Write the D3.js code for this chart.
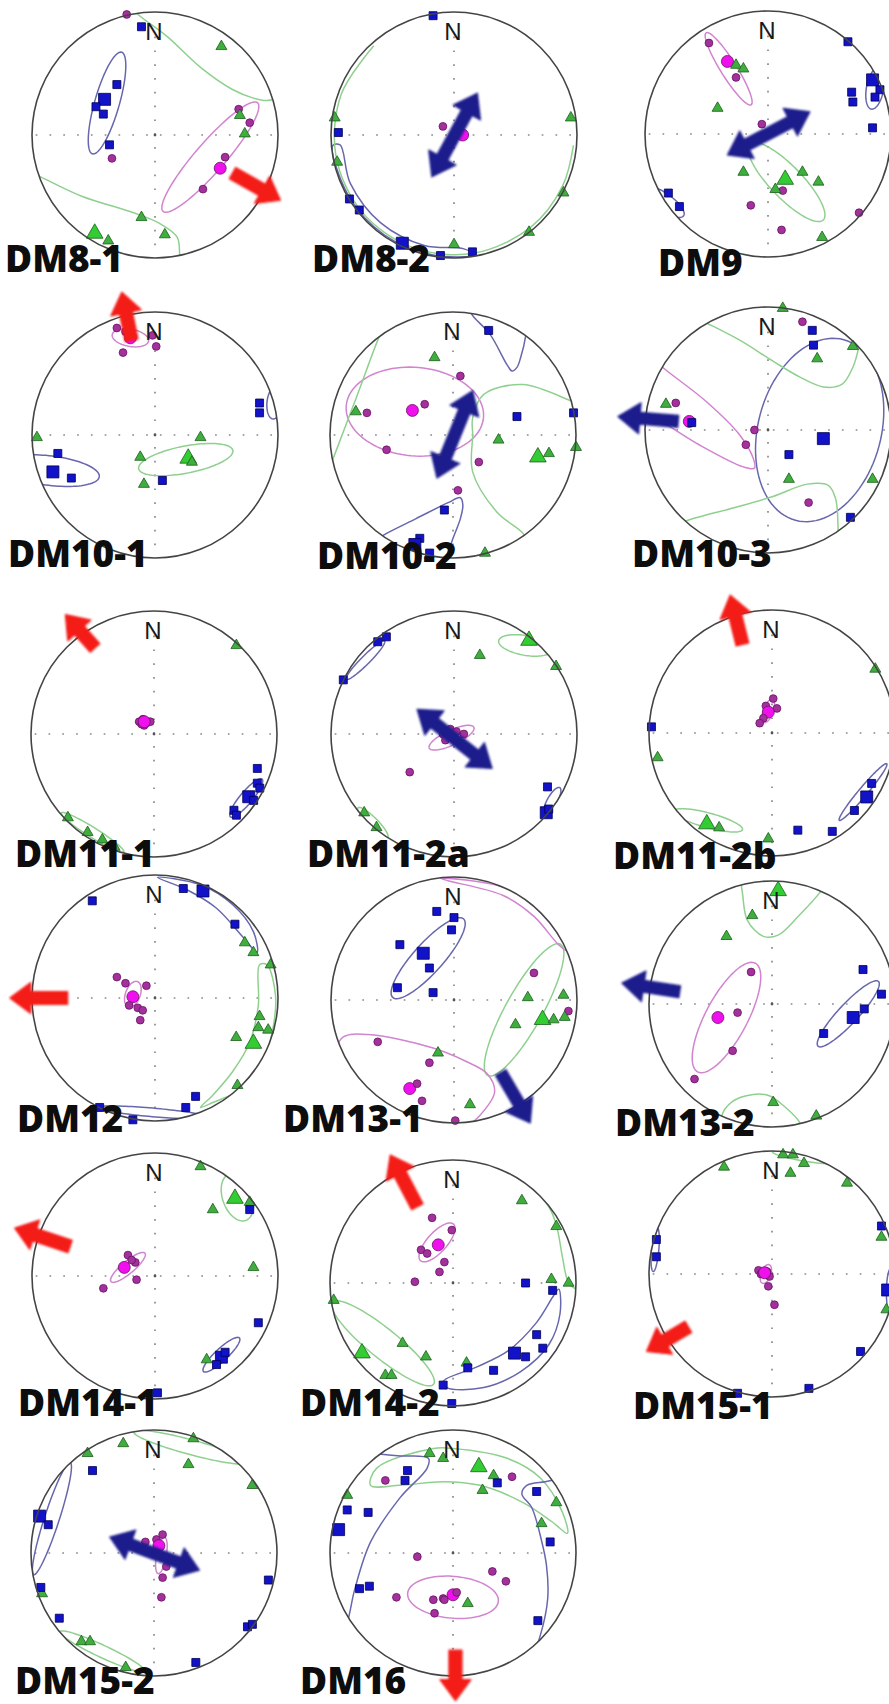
<!DOCTYPE html>
<html><head><meta charset="utf-8">
<script src="https://cdn.jsdelivr.net/npm/d3@7"></script>
<style>body{margin:0;background:#fff}</style>
</head><body><svg id="c" width="889" height="1704"></svg>
<script>
// ---------------- DATA (unit equal-area coordinates: [east, north, isMean]) ----------------
const sites = ["DM8-1","DM8-2","DM9","DM10-1","DM10-2","DM10-3","DM11-1","DM11-2a","DM11-2b",
  "DM12","DM13-1","DM13-2","DM14-1","DM14-2","DM15-1","DM15-2","DM16"];

const kmaxPoints = [
 [[-0.11,0.88,0],[-0.31,0.41,0],[-0.41,0.29,1],[-0.48,0.23,0],[-0.42,0.17,0],[-0.37,-0.08,0]],
 [[-0.17,0.97,0],[-0.94,0.02,0],[-0.85,-0.52,0],[-0.77,-0.61,0],[-0.42,-0.88,1],[-0.11,-0.98,0],[0.15,-0.95,0]],
 [[0.65,0.75,0],[0.85,0.44,1],[0.91,0.36,0],[0.68,0.34,0],[0.69,0.26,0],[0.87,0.30,0],[0.85,0.05,0],[-0.81,-0.48,0],[-0.72,-0.59,0]],
 [[0.85,0.26,0],[0.85,0.18,0],[-0.79,-0.15,0],[-0.83,-0.30,1],[-0.68,-0.35,0],[0.06,-0.37,0]],
 [[0.29,0.85,0],[0.52,0.15,0],[0.98,0.18,0],[-0.07,-0.61,0],[-0.27,-0.84,0],[-0.31,-0.89,1],[-0.19,-0.96,0]],
 [[0.36,0.81,0],[0.37,0.69,0],[0.45,-0.07,1],[0.17,-0.2,0],[0.67,-0.71,0],[-0.62,0.06,0]],
 [[0.84,-0.28,0],[0.84,-0.4,0],[0.86,-0.44,0],[0.77,-0.51,1],[0.81,-0.54,0],[0.65,-0.62,0],[0.67,-0.66,0]],
 [[-0.62,0.75,0],[-0.55,0.79,0],[-0.9,0.44,0],[0.76,-0.43,0],[0.75,-0.64,1],[0.77,-0.61,0]],
 [[-0.98,0.05,0],[0.81,-0.41,0],[0.77,-0.52,1],[0.67,-0.63,0],[0.21,-0.79,0],[0.49,-0.8,0]],
 [[-0.51,0.79,0],[0.23,0.89,0],[0.39,0.87,1],[0.65,0.6,0],[0.33,-0.8,0],[0.25,-0.89,0],[-0.45,-0.89,0],[-0.18,-0.99,0]],
 [[-0.14,0.72,0],[-0.44,0.45,0],[-0.25,0.38,1],[-0.2,0.26,0],[-0.46,0.1,0],[-0.17,0.06,0],[0,0.67,0],[-0.02,0.57,0]],
 [[0.74,0.28,0],[0.89,0.08,0],[0.75,-0.04,0],[0.66,-0.11,1],[0.42,-0.24,0]],
 [[0.77,0.54,0],[0.84,-0.38,0],[0.54,-0.66,1],[0.5,-0.72,0],[0.57,-0.62,0],[0.02,-0.95,0]],
 [[0.59,0,0],[0.81,-0.06,0],[0.68,-0.42,0],[0.73,-0.53,0],[0.5,-0.57,1],[0.59,-0.6,0],[0.33,-0.71,0],[0.12,-0.69,0],[-0.08,-0.83,0],[-0.01,-0.98,0]],
 [[-0.94,0.28,0],[-0.94,0.14,0],[0.89,0.39,0],[0.94,-0.13,1],[0.72,-0.63,0],[0.3,-0.93,0],[-0.28,-0.97,0]],
 [[-0.5,0.67,0],[-0.93,0.3,1],[-0.86,0.23,0],[-0.92,-0.28,0],[-0.77,-0.53,0],[0.93,-0.22,0],[0.76,-0.6,0],[0.8,-0.58,0],[0.34,-0.89,0]],
 [[-0.37,0.67,0],[-0.39,0.59,0],[-0.86,0.35,0],[-0.69,0.33,0],[-0.93,0.19,1],[-0.76,-0.29,0],[-0.68,-0.27,0],[0.36,0.57,0],[0.68,0.5,0],[0.79,0.09,0],[0.69,-0.55,0]]
];

const kintPoints = [
 [[0.54,0.72,0],[0.69,0.16,0],[0.73,0.01,0],[-0.11,-0.67,0],[0.08,-0.81,0],[-0.49,-0.80,1],[-0.38,-0.86,0]],
 [[-0.97,0.14,0],[-0.95,-0.22,0],[0.95,0.14,0],[0,-0.89,0],[0.89,-0.47,0],[0.61,-0.79,0]],
 [[-0.26,0.56,0],[-0.2,0.53,0],[-0.41,0.21,0],[-0.2,-0.31,0],[0.14,-0.37,1],[0.06,-0.45,0],[0.28,-0.31,0],[0.41,-0.39,0],[0.44,-0.84,0]],
 [[-0.96,-0.02,0],[0.37,-0.02,0],[-0.12,-0.18,0],[0.27,-0.19,1],[0.3,-0.22,0],[-0.09,-0.40,0]],
 [[-0.15,0.63,0],[-0.79,0.19,0],[0.37,-0.04,0],[0.69,-0.18,1],[0.78,-0.15,0],[0.26,-0.96,0],[1.0,-0.1,0]],
 [[0.12,0.99,0],[0.40,0.58,0],[0.69,0.68,0],[-0.83,0.21,0],[0.17,-0.4,0],[0.85,-0.4,0]],
 [[0.67,0.72,0],[-0.7,-0.68,0],[-0.54,-0.8,0],[-0.42,-0.86,0],[-0.32,-0.92,0]],
 [[0.61,0.76,1],[0.21,0.64,0],[0.83,0.55,0],[-0.73,-0.64,0],[-0.63,-0.76,0]],
 [[0.84,0.52,0],[-0.93,-0.2,0],[-0.53,-0.74,1],[-0.43,-0.77,0],[-0.03,-0.86,0]],
 [[0.73,0.45,0],[0.8,0.37,0],[0.94,0.27,0],[0.85,-0.15,0],[0.84,-0.24,0],[0.92,-0.26,0],[0.66,-0.32,0],[0.8,-0.37,1],[0.67,-0.71,0]],
 [[-0.13,-0.43,0],[0.6,0.02,0],[0.89,0.04,0],[0.5,-0.2,0],[0.72,-0.16,1],[0.81,-0.16,0],[0.9,-0.14,0],[0.13,-0.85,0]],
 [[0.05,0.92,1],[-0.16,0.72,0],[-0.37,0.55,0],[0.01,-0.8,0],[0.36,-0.91,0]],
 [[0.37,0.89,0],[0.65,0.63,1],[0.47,0.54,0],[0.77,0.6,0],[0.8,0.07,0],[0.42,-0.68,0]],
 [[0.56,0.67,0],[0.84,0.46,0],[0.8,0.03,0],[0.94,0,0],[0.11,-0.65,0],[-0.97,-0.14,0],[-0.74,-0.57,1],[-0.41,-0.49,0],[-0.22,-0.6,0],[-0.55,-0.75,0],[-0.5,-0.75,0]],
 [[0.09,0.97,0],[0.17,0.97,0],[0.26,0.9,0],[0.15,0.82,0],[-0.39,0.87,0],[0.61,0.74,0],[0.89,0.3,0],[0.93,-0.29,0]],
 [[-0.54,0.81,0],[-0.25,0.89,0],[0.32,0.93,0],[0.28,0.72,0],[0.8,0.55,0],[-0.91,-0.33,0],[-0.59,-0.72,0],[-0.52,-0.72,0],[-0.23,-0.93,0]],
 [[-0.86,0.47,0],[-0.19,0.81,0],[-0.08,0.77,0],[0.21,0.7,1],[0.33,0.63,0],[0.24,0.51,0],[0.84,0.41,0],[0.72,0.24,0],[0.12,-0.41,0]]
];

const kminPoints = [
 [[-0.35,-0.19,0],[0.68,0.21,0],[0.77,0.10,0],[0.57,-0.18,0],[0.53,-0.27,1],[0.39,-0.44,0],[-0.23,0.98,0]],
 [[-0.09,0.07,0],[0.07,0.0,1]],
 [[-0.48,0.74,0],[-0.33,0.59,1],[-0.26,0.46,0],[-0.05,0.08,0],[0.12,-0.46,0],[-0.14,-0.58,0],[0.11,-0.78,0],[0.74,-0.64,0]],
 [[-0.31,0.87,0],[-0.2,0.79,1],[-0.02,0.81,0],[0.01,0.72,0],[-0.26,0.67,0],[-0.24,0.84,0]],
 [[-0.7,0.18,0],[-0.33,0.2,1],[-0.23,0.25,0],[-0.54,-0.12,0],[0.06,0.48,0],[0.21,-0.22,0],[0.04,-0.45,0]],
 [[0.28,0.88,0],[-0.75,0.22,0],[-0.64,0.07,1],[-0.11,0.0,0],[-0.18,-0.12,0],[0.33,-0.59,0]],
 [[-0.12,0.1,0],[-0.09,0.12,0],[-0.06,0.09,0],[-0.03,0.1,0],[-0.08,0.07,0],[-0.1,0.08,0],[-0.08,0.1,1]],
 [[-0.03,0.04,0],[0.02,0.02,0],[0.08,0,0],[-0.09,0,0],[-0.07,-0.05,0],[-0.36,-0.31,0]],
 [[0.01,0.28,0],[-0.05,0.22,0],[0.04,0.2,0],[-0.03,0.17,1],[-0.07,0.12,0],[-0.1,0.08,0]],
 [[-0.31,0.17,0],[-0.24,0.12,0],[-0.07,0.1,0],[-0.18,0.01,1],[-0.21,-0.06,0],[-0.14,-0.08,0],[-0.1,-0.1,0],[-0.12,-0.18,0]],
 [[-0.62,-0.34,0],[-0.2,-0.51,0],[-0.36,-0.72,1],[-0.3,-0.68,0],[-0.26,-0.82,0],[0.65,0.22,0],[0.93,-0.09,0],[0.01,-0.98,0]],
 [[-0.17,0.26,0],[-0.44,-0.11,1],[-0.28,-0.07,0],[-0.32,-0.38,0],[-0.63,-0.61,0]],
 [[-0.22,0.17,0],[-0.25,0.07,1],[-0.16,0.11,0],[-0.19,0.13,0],[-0.15,-0.03,0],[-0.42,-0.1,0]],
 [[-0.17,0.53,0],[-0.26,0.27,0],[-0.21,0.24,0],[-0.12,0.31,1],[-0.31,0.01,0],[-0.11,0.09,0],[-0.07,0.17,0],[-0.01,0.43,0]],
 [[-0.11,0.03,0],[-0.04,0.02,0],[-0.02,-0.02,0],[-0.09,0.0,0],[-0.03,-0.1,0],[0.02,-0.25,0],[-0.06,0.01,1]],
 [[-0.07,0.09,0],[0.02,0.11,0],[0.07,0.15,0],[0.04,0.06,1],[0.1,-0.11,0],[0.07,-0.2,0],[0.06,-0.36,0]],
 [[-0.55,0.59,0],[0.48,0.62,0],[-0.29,-0.03,0],[-0.46,-0.36,0],[-0.16,-0.38,0],[-0.08,-0.37,0],[-0.15,-0.49,0],[0.32,-0.15,0],[0.43,-0.23,0],[-0.07,-0.38,0],[0.0,-0.34,1],[0.03,-0.32,0]]
];

// confidence ellipses: [site, axis, centreE, centreN, semiMajor, semiMinor, azimuthOfMajor]
const confEllipses = [
 [0,"max",-0.39,0.26,0.43,0.1,16],[0,"min",0.45,-0.18,0.585,0.12,41],
 [2,"min",-0.32,0.53,0.345,0.065,-32],[2,"int",0.15,-0.39,0.43,0.13,136],[2,"max",0.87,0.37,0.17,0.07,10],[2,"max",-0.85,-0.55,0.2,0.07,125],
 [3,"min",-0.2,0.79,0.15,0.07,100],[3,"int",0.25,-0.2,0.39,0.11,79],[3,"max",-0.85,-0.29,0.4,0.12,97],[3,"max",0.97,0.26,0.13,0.06,5],
 [4,"min",-0.31,0.19,0.56,0.36,95],
 [5,"max",0.42,0,0.76,0.5,15],[5,"min",1.02,-0.55,0.15,0.08,130],
 [6,"max",0.75,-0.52,0.2,0.05,40],[6,"int",-0.5,-0.8,0.3,0.04,122],[6,"min",-0.08,0.1,0.07,0.035,90],
 [7,"max",-0.72,0.6,0.22,0.035,45],[7,"max",0.8,-0.54,0.12,0.04,30],[7,"int",0.58,0.72,0.22,0.08,100],[7,"int",-0.66,-0.72,0.17,0.04,135],[7,"min",-0.02,-0.03,0.2,0.06,65],
 [8,"max",0.74,-0.48,0.3,0.035,40],[8,"int",-0.52,-0.71,0.29,0.06,105],[8,"min",-0.03,0.18,0.1,0.04,20],
 [9,"min",-0.18,0.03,0.11,0.06,20],[9,"max",-0.02,-0.93,0.45,0.035,95],
 [10,"max",-0.21,0.34,0.43,0.12,42],[10,"int",0.57,-0.08,0.61,0.15,29],
 [11,"max",0.62,-0.08,0.36,0.08,43],[11,"min",-0.37,-0.11,0.5,0.17,28],
 [12,"min",-0.22,0.07,0.18,0.05,50],[12,"int",0.67,0.64,0.2,0.12,160],[12,"max",0.54,-0.64,0.2,0.05,47],
 [13,"min",-0.13,0.33,0.2,0.08,42],[13,"int",-0.57,-0.49,0.53,0.12,129],
 [14,"int",0.25,0.95,0.25,0.03,100],[14,"max",0.97,-0.15,0.2,0.04,0],[14,"max",-0.95,0.2,0.18,0.03,5],[14,"min",-0.05,0,0.08,0.04,20],
 [15,"max",-0.83,0.28,0.48,0.06,18],[15,"int",0.3,0.86,0.48,0.06,105],[15,"int",-0.42,-0.8,0.38,0.05,115],[15,"min",0.06,-0.02,0.15,0.04,10],
 [16,"min",0,-0.36,0.37,0.17,95]
];

// confidence regions that wrap across the primitive circle: [site, axis, closed, points]
const confPaths = [
 [0,"int",0,[[-0.2,1.05],[-0.15,0.99],[0.1,0.8],[0.37,0.55],[0.63,0.37],[0.8,0.3],[0.91,0.28],[1.02,0.31]]],
 [0,"int",0,[[-1.02,-0.3],[-0.93,-0.34],[-0.59,-0.5],[-0.18,-0.63],[0.04,-0.72],[0.18,-0.83],[0.2,-0.96],[0.2,-1.05]]],
 [1,"max",1,[[-0.986,-0.086],[-0.857,-0.495],[-0.568,-0.811],[-0.172,-0.975],[0.172,-0.975],[0.081,-0.926],[-0.241,-0.898],[-0.598,-0.712],[-0.843,-0.393],[-0.926,-0.081]]],
 [1,"int",0,[[-0.652,0.725],[-0.916,0.333],[-0.960,-0.169],[-0.747,-0.627],[-0.333,-0.916],[0.169,-0.960],[0.627,-0.747],[0.884,-0.412],[0.971,-0.085]]],
 [4,"max",0,[[0.13,1.03],[0.16,0.97],[0.3,0.82],[0.44,0.57],[0.48,0.52],[0.52,0.55],[0.55,0.63],[0.59,0.8],[0.6,0.95]]],
 [4,"max",0,[[-0.62,-0.85],[-0.54,-0.8],[-0.3,-0.68],[-0.04,-0.55],[0.06,-0.51],[0.08,-0.57],[0.06,-0.68],[0,-0.84],[-0.06,-1.02]]],
 [4,"int",0,[[1.02,0.26],[0.98,0.27],[0.57,0.41],[0.25,0.33],[0.16,0.14],[0.16,0],[0.16,-0.3],[0.36,-0.63],[0.57,-0.8],[0.62,-0.9]]],
 [4,"int",0,[[-0.56,0.88],[-0.6,0.8],[-0.78,0.32],[-0.97,-0.18],[-1.0,-0.26]]],
 [5,"int",0,[[-0.6,0.92],[-0.5,0.87],[-0.23,0.73],[0.04,0.56],[0.26,0.43],[0.45,0.35],[0.6,0.37],[0.69,0.51],[0.74,0.68],[0.76,0.8]]],
 [5,"int",0,[[-0.72,-0.76],[-0.64,-0.73],[-0.23,-0.62],[0.04,-0.54],[0.32,-0.44],[0.49,-0.45],[0.55,-0.56],[0.57,-0.81],[0.57,-0.9]]],
 [5,"min",0,[[-0.95,0.6],[-0.87,0.52],[-0.5,0.23],[-0.23,-0.04],[-0.12,-0.23],[-0.11,-0.31],[-0.2,-0.3],[-0.56,-0.12],[-0.95,0.12],[-1.05,0.16]]],
 [9,"int",1,[[0.91,0.27],[0.98,0.02],[0.96,-0.24],[0.88,-0.52],[0.72,-0.73],[0.47,-0.85],[0.37,-0.89],[0.47,-0.79],[0.63,-0.6],[0.77,-0.36],[0.84,-0.06],[0.85,0.27]]],
 [9,"max",1,[[0.02,0.98],[0.37,0.92],[0.63,0.76],[0.8,0.54],[0.83,0.37],[0.72,0.49],[0.5,0.73],[0.26,0.88]]],
 [10,"min",0,[[-0.97,-0.42],[-0.9,-0.3],[-0.7,-0.28],[-0.17,-0.39],[0.1,-0.5],[0.27,-0.6],[0.33,-0.75],[0.2,-0.95],[0.08,-1.05]]],
 [10,"min",1,[[-0.11,0.99],[0.45,0.9],[0.75,0.66],[0.92,0.4],[0.85,0.45],[0.65,0.68],[0.4,0.85],[-0.05,0.97]]],
 [11,"int",0,[[-0.26,1.05],[-0.24,0.9],[-0.2,0.68],[-0.07,0.55],[0.05,0.56],[0.22,0.72],[0.4,0.92],[0.45,1.0]]],
 [11,"int",0,[[-0.42,-0.95],[-0.38,-0.85],[-0.26,-0.76],[-0.04,-0.74],[0.12,-0.85],[0.23,-0.97],[0.26,-1.05]]],
 [13,"int",0,[[0.55,0.85],[0.68,0.75],[0.8,0.58],[0.85,0.43],[0.89,0.21],[0.94,0.0],[1.0,-0.05]]],
 [13,"max",1,[[0.86,-0.05],[0.87,-0.25],[0.78,-0.5],[0.55,-0.72],[0.25,-0.85],[-0.05,-0.85],[-0.08,-0.8],[0.2,-0.68],[0.45,-0.55],[0.68,-0.32],[0.82,-0.1]]],
 [16,"int",1,[[-0.62,0.69],[-0.16,0.85],[0,0.85],[0.44,0.77],[0.71,0.61],[0.89,0.33],[0.93,0.16],[0.81,0.25],[0.57,0.41],[0.22,0.55],[-0.08,0.58],[-0.43,0.55],[-0.67,0.55]]],
 [16,"max",0,[[-0.72,0.82],[-0.45,0.79],[-0.2,0.77],[-0.21,0.69],[-0.43,0.45],[-0.67,0.09],[-0.8,-0.3],[-0.86,-0.56],[-0.9,-0.62]]],
 [16,"max",0,[[0.85,0.6],[0.75,0.58],[0.6,0.55],[0.56,0.48],[0.64,0.37],[0.72,0.1],[0.76,-0.1],[0.77,-0.37],[0.71,-0.67],[0.66,-0.8]]]
];

// arrows: [site, kind ("flow" red / "lin" navy), fromE, fromN, toE, toN, doubleHeaded]
const arrows = [
 [0,"flow",0.63,-0.31,1.02,-0.53,0],
 [1,"lin",-0.18,-0.34,0.19,0.34,1],
 [2,"lin",-0.33,-0.17,0.34,0.18,1],
 [3,"flow",-0.19,0.77,-0.27,1.16,0],
 [4,"lin",-0.13,-0.35,0.16,0.36,1],
 [5,"lin",-0.73,0.07,-1.22,0.11,0],
 [6,"flow",-0.48,0.7,-0.72,0.97,0],
 [7,"lin",-0.3,0.2,0.31,-0.28,1],
 [8,"flow",-0.24,0.72,-0.34,1.12,0],
 [9,"flow",-0.71,0,-1.18,0,0],
 [10,"lin",0.38,-0.59,0.62,-1.0,0],
 [11,"lin",-0.75,0.1,-1.22,0.17,0],
 [12,"flow",-0.69,0.24,-1.14,0.39,0],
 [13,"flow",-0.29,0.62,-0.51,1.04,0],
 [14,"flow",-0.68,-0.43,-1.02,-0.63,0],
 [15,"lin",-0.36,0.13,0.37,-0.14,1],
 [16,"flow",0.02,-0.79,0.02,-1.2,0]
];

// ---------------- LAYOUT ----------------
const R = 123;
const netCenters = [[155,135],[454,135],[768,134],[155,435],[453,435],[768,430],[154,734],[454,734],[772,733],
  [155,998],[454,1000],[772,1004],[155,1276],[453,1283],[772,1274],[154,1553],[453,1553]];
const labelOffsets = [[-150,137],[-142,137],[-110,142],[-147,132],[-136,134],[-136,137],[-139,133],[-147,133],[-159,136],
  [-138,134],[-171,132],[-157,132],[-137,140],[-153,133],[-139,145],[-139,141],[-153,141]];

const style = {
  max:{fill:"#1212c8", stroke:"#000055", ring:"#6767ad"},
  int:{fill:"#3fae3f", stroke:"#1b5e1b", ring:"#8fd08f", bigFill:"#33cc33"},
  min:{fill:"#a3319c", stroke:"#6a1066", ring:"#d184cf", bigFill:"#f010ee"}
};

const svg = d3.select("#c");
const defs = svg.append("defs");
const gNets = svg.append("g");
const gArrows = svg.append("g");
const gText = svg.append("g");

function ellipsePoints(e,n,a,b,az){
  const r = az*Math.PI/180, u=[Math.sin(r),Math.cos(r)], v=[Math.cos(r),-Math.sin(r)];
  return d3.range(0,96).map(k=>{const t=k/96*2*Math.PI, ca=a*Math.cos(t), sb=b*Math.sin(t);
    return [e+ca*u[0]+sb*v[0], n+ca*u[1]+sb*v[1]];});
}

const scales = [];
sites.forEach((name,i)=>{
  const [cx,cy] = netCenters[i];
  const x = d3.scaleLinear().domain([-1,1]).range([cx-R,cx+R]);
  const y = d3.scaleLinear().domain([-1,1]).range([cy+R,cy-R]);
  scales.push({x,y});
  defs.append("clipPath").attr("id","clip"+i).append("circle").attr("cx",cx).attr("cy",cy).attr("r",R);
  const g = gNets.append("g");
  // dotted axes
  g.append("line").attr("x1",x(-0.97)).attr("x2",x(0.97)).attr("y1",y(0)).attr("y2",y(0))
    .attr("stroke","#8a8a8a").attr("stroke-width",1.7).attr("stroke-dasharray","1.7,12.1");
  g.append("line").attr("x1",x(0)).attr("x2",x(0)).attr("y1",y(0.8)).attr("y2",y(-0.97))
    .attr("stroke","#8a8a8a").attr("stroke-width",1.7).attr("stroke-dasharray","1.7,12.1");
  g.append("circle").attr("cx",x(0)).attr("cy",y(0)).attr("r",1.4).attr("fill","#555");

  // confidence regions
  const cg = g.append("g").attr("clip-path",`url(#clip${i})`).attr("fill","none").attr("stroke-width",1.5);
  const lineOpen = d3.line().x(d=>x(d[0])).y(d=>y(d[1])).curve(d3.curveCatmullRom.alpha(0.5));
  const lineClosed = d3.line().x(d=>x(d[0])).y(d=>y(d[1])).curve(d3.curveCatmullRomClosed.alpha(0.5));
  const lineLin = d3.line().x(d=>x(d[0])).y(d=>y(d[1])).curve(d3.curveLinearClosed);
  confEllipses.filter(d=>d[0]===i).forEach(d=>{
    cg.append("path").attr("d",lineLin(ellipsePoints(d[2],d[3],d[4],d[5],d[6]))).attr("stroke",style[d[1]].ring);
  });
  confPaths.filter(d=>d[0]===i).forEach(d=>{
    cg.append("path").attr("d",(d[2]?lineClosed:lineOpen)(d[3])).attr("stroke",style[d[1]].ring);
  });

  // data points
  const sq = d3.symbol().type(d3.symbolSquare);
  const tri = d3.symbol().type(d3.symbolTriangle);
  g.selectAll(null).data(kminPoints[i]).join("circle")
    .attr("cx",d=>x(d[0])).attr("cy",d=>y(d[1])).attr("r",d=>d[2]?6:3.9)
    .attr("fill",d=>d[2]?style.min.bigFill:style.min.fill).attr("stroke",style.min.stroke).attr("stroke-width",0.8);
  g.selectAll(null).data(kintPoints[i]).join("path")
    .attr("transform",d=>`translate(${x(d[0])},${y(d[1])})`)
    .attr("d",d=>tri.size(d[2]?120:52)())
    .attr("fill",d=>d[2]?style.int.bigFill:style.int.fill).attr("stroke",style.int.stroke).attr("stroke-width",0.8);
  g.selectAll(null).data(kmaxPoints[i]).join("path")
    .attr("transform",d=>`translate(${x(d[0])},${y(d[1])})`)
    .attr("d",d=>sq.size(d[2]?144:64)())
    .attr("fill",style.max.fill).attr("stroke",style.max.stroke).attr("stroke-width",0.8);

  // primitive circle
  g.append("circle").attr("cx",cx).attr("cy",cy).attr("r",R).attr("fill","none")
    .attr("stroke","#444").attr("stroke-width",1.6);
  // north label
  g.append("text").attr("x",x(0)-1).attr("y",y(1)+28).attr("text-anchor","middle")
    .attr("font-family","Liberation Sans, Arial, sans-serif").attr("font-size",24).attr("fill","#1a1a1a").text("N");
  // site label
  gText.append("text").attr("x",cx+labelOffsets[i][0]).attr("y",cy+labelOffsets[i][1])
    .attr("font-family","Open Sans, sans-serif").attr("font-weight",800).attr("font-size",37)
    .attr("fill","#0d0d0d").text(name);
});

// block arrows
function arrowPoly(x0,y0,x1,y1,both,sw,hw,hl){
  const L=Math.hypot(x1-x0,y1-y0), ux=(x1-x0)/L, uy=(y1-y0)/L, vx=-uy, vy=ux;
  const p=(s,t)=>[x0+ux*s+vx*t, y0+uy*s+vy*t];
  const pts=[];
  if(both){ pts.push(p(0,0),p(hl,hw),p(hl,sw)); } else { pts.push(p(0,sw)); }
  pts.push(p(L-hl,sw),p(L-hl,hw),p(L,0),p(L-hl,-hw),p(L-hl,-sw));
  if(both){ pts.push(p(hl,-sw),p(hl,-hw)); } else { pts.push(p(0,-sw)); }
  return pts;
}
const blur = defs.append("filter").attr("id","soft").attr("x","-20%").attr("y","-20%").attr("width","140%").attr("height","140%");
blur.append("feGaussianBlur").attr("stdDeviation",0.9);
arrows.forEach(a=>{
  const {x,y} = scales[a[0]];
  const isFlow = a[1]==="flow";
  const pts = arrowPoly(x(a[2]),y(a[3]),x(a[4]),y(a[5]),a[6], isFlow?6.5:6, 15.5, isFlow?21:22);
  gArrows.append("polygon").attr("points",pts.map(p=>p.join(",")).join(" "))
    .attr("fill",isFlow?"#f41a14":"#1e1e8c")
    .attr("stroke",isFlow?"#f41a14":"#1e1e8c").attr("stroke-width",1.2).attr("stroke-linejoin","round")
    .attr("filter","url(#soft)");
});
</script>
</body></html>
